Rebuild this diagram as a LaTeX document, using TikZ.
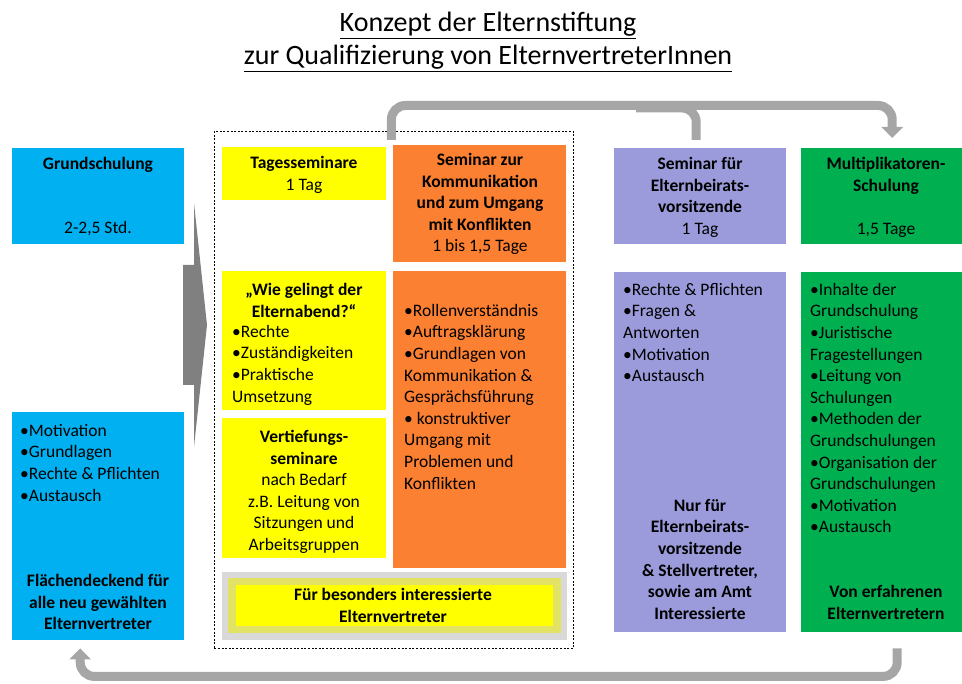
\documentclass[tikz,border=0pt]{standalone}
\usepackage{fontspec}
\setmainfont{Carlito}
\usetikzlibrary{arrows.meta}

\definecolor{blau}{RGB}{0,176,240}
\definecolor{gelb}{RGB}{255,255,0}
\definecolor{orange}{RGB}{252,128,50}
\definecolor{lila}{RGB}{155,155,220}
\definecolor{gruen}{RGB}{0,176,80}
\definecolor{hellgrau}{RGB}{217,217,217}
\definecolor{gelbgrau}{RGB}{226,226,100}
\definecolor{pfeilgrau}{RGB}{128,128,128}
\definecolor{bogengrau}{RGB}{166,166,166}

\begin{document}
\begin{tikzpicture}
            [x=1pt,y=-1pt,
            box/.style={inner sep=0pt,anchor=north west},
            txt/.style={inner sep=0pt,anchor=north,align=center,font=\fontsize{17.5}{21.6}\selectfont},
            liste/.style={txt,anchor=north west,align=left},
            fett/.style={txt,font=\fontsize{17.5}{21.6}\selectfont\bfseries},
            bogen/.style={draw=bogengrau,line width=9pt,rounded corners=14pt}]
            \useasboundingbox (0,0) rectangle (962,684);
            \node[font=\fontsize{28}{33}\selectfont,align=center,inner sep=0pt] (titel) at (488,42)
                {\underline{Konzept der Elternstiftung}\\\underline{zur Qualifizierung von ElternvertreterInnen}};
            % Grundschulung
            \node[box,fill=blau,minimum width=172pt,minimum height=96pt] (gs) at (12,148) {};
            \node[fett] (gs-titel) at (98,157) {Grundschulung};
            \node[txt] (gs-dauer) at (98,221) {2-2,5 Std.};
            \node[box,fill=blau,minimum width=172pt,minimum height=228pt] (gsinfo) at (12,412) {};
            \node[liste] (gsinfo-liste) at (20,424) {•Motivation\\•Grundlagen\\•Rechte \& Pflichten\\•Austausch};
            \node[fett] (gsinfo-ziel) at (98,574) {Flächendeckend für\\alle neu gewählten\\Elternvertreter};
            \fill[pfeilgrau] (183,265) -- (194,265) -- (194,203) -- (207,325) -- (194,447) -- (194,385) -- (183,385) -- cycle;
            % Tagesseminare
            \node[box,draw,line width=0.8pt,dash pattern=on 2pt off 1.6pt,minimum width=359pt,minimum height=517pt] (rahmen) at (214,131) {};
            \node[box,fill=gelb,minimum width=164pt,minimum height=53pt] (tag) at (222,147) {};
            \node[txt] (tag-text) at (304,156) {\textbf{Tagesseminare}\\1 Tag};
            \node[box,fill=orange,minimum width=173pt,minimum height=117pt] (komm) at (393,145) {};
            \node[txt] (komm-text) at (480,153) {\textbf{Seminar zur}\\\textbf{Kommunikation}\\\textbf{und zum Umgang}\\\textbf{mit Konflikten}\\1 bis 1,5 Tage};
            \node[box,fill=gelb,minimum width=164pt,minimum height=139pt] (wie) at (222,271) {};
            \node[fett] (wie-titel) at (304,283) {„Wie gelingt der\\Elternabend?“};
            \node[liste] (wie-liste) at (232,325) {•Rechte\\•Zuständigkeiten\\•Praktische\\Umsetzung};
            \node[box,fill=gelb,minimum width=164pt,minimum height=140pt] (vert) at (222,418) {};
            \node[txt] (vert-text) at (304,430) {\textbf{Vertiefungs-}\\\textbf{seminare}\\nach Bedarf\\z.B. Leitung von\\Sitzungen und\\Arbeitsgruppen};
            \node[box,fill=orange,minimum width=173pt,minimum height=297pt] (komminfo) at (393,271) {};
            \node[liste] (komminfo-liste) at (404,304) {•Rollenverständnis\\•Auftragsklärung\\•Grundlagen von\\Kommunikation \&\\Gesprächsführung\\• konstruktiver\\Umgang mit\\Problemen und\\Konflikten};
            \node[box,fill=hellgrau,minimum width=345pt,minimum height=68pt] (band) at (222,572) {};
            \node[box,fill=gelbgrau,minimum width=333pt,minimum height=55pt] (bandrand) at (228,578) {};
            \node[box,fill=gelb,minimum width=317pt,minimum height=41pt] (bandkern) at (236,585) {};
            \node[fett] (band-text) at (393,588) {Für besonders interessierte\\Elternvertreter};
            % Seminar fuer Vorsitzende
            \node[box,fill=lila,minimum width=172pt,minimum height=96pt] (sv) at (614,148) {};
            \node[txt] (sv-text) at (700,157) {\textbf{Seminar für}\\\textbf{Elternbeirats-}\\\textbf{vorsitzende}\\1 Tag};
            \node[box,fill=lila,minimum width=172pt,minimum height=360pt] (svinfo) at (614,272) {};
            \node[liste] (svinfo-liste) at (623,283) {•Rechte \& Pflichten\\•Fragen \&\\Antworten\\•Motivation\\•Austausch};
            \node[fett] (svinfo-ziel) at (700,499) {Nur für\\Elternbeirats-\\vorsitzende\\\& Stellvertreter,\\sowie am Amt\\Interessierte};
            % Multiplikatoren
            \node[box,fill=gruen,minimum width=161pt,minimum height=96pt] (ms) at (801,148) {};
            \node[fett] (ms-titel) at (886,157) {Multiplikatoren-\\Schulung};
            \node[txt] (ms-dauer) at (886,223) {1,5 Tage};
            \node[box,fill=gruen,minimum width=161pt,minimum height=360pt] (msinfo) at (801,272) {};
            \node[liste] (msinfo-liste) at (810,283) {•Inhalte der\\Grundschulung\\•Juristische\\Fragestellungen\\•Leitung von\\Schulungen\\•Methoden der\\Grundschulungen\\•Organisation der\\Grundschulungen\\•Motivation\\•Austausch};
            \node[fett] (msinfo-ziel) at (886,585) {Von erfahrenen\\Elternvertretern};
            % the loops
            \coordinate (o-start) at ([xshift=-2.5pt,yshift=-9pt]rahmen.north);
            \coordinate (o-abzweig) at ([xshift=-4pt,yshift=8pt]sv.north);
            \coordinate (o-ende) at ([xshift=10.5pt,yshift=10pt]ms.north);
            \draw[bogen,-{Triangle[width=21pt,length=11pt]}] (o-start) -- ++(0,-34.5) -| (o-ende);
            \draw[bogen] (o-abzweig) |- ++(-60,-32);
            \coordinate (u-start) at ([xshift=15.5pt,yshift=-16pt]msinfo.south);
            \coordinate (u-ende) at ([xshift=-18pt,yshift=-8pt]gsinfo.south);
            \draw[bogen,-{Triangle[width=21pt,length=11pt]}] (u-start) -- ++(0,28) -| (u-ende);
        \end{tikzpicture}
\end{document}
